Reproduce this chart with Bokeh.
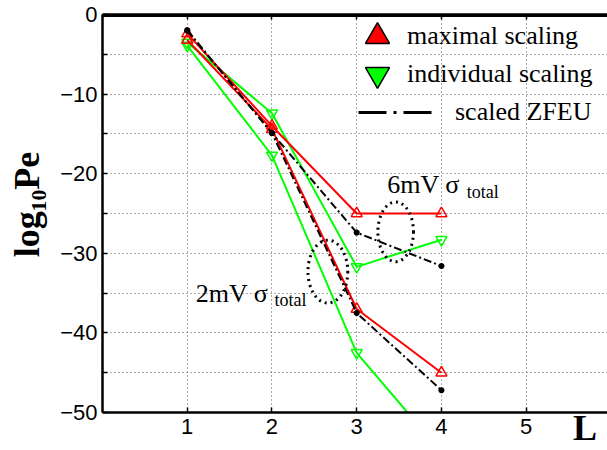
from bokeh.plotting import figure
from bokeh.models import (ColumnDataSource, FixedTicker, LinearAxis, Legend,
                          LegendItem, Label, Range1d)
from bokeh.embed import file_html
from bokeh.resources import INLINE

# ---------------- data ----------------
L = [1, 2, 3, 4]
max_6mv = [-2.4, -14.0, -25.0, -25.0]
max_2mv = [-3.2, -14.4, -37.0, -45.0]
ind_6mv = [-3.5, -12.4, -31.7, -28.3]
ind_2mv = [-3.9, -17.7, -42.5, -55.0]
zfeu_6mv = [-2.0, -14.9, -27.4, -31.6]
zfeu_2mv = [-2.0, -14.9, -37.5, -47.2]

x_lim = (0, 5.96)
y_lim = (-50, 0)
x_ticks = [1, 2, 3, 4, 5]
y_ticks = [-50, -45, -40, -35, -30, -25, -20, -15, -10, -5, 0]
y_tick_labels = {0: "0", -5: "", -10: "\u221210", -15: "", -20: "\u221220",
                 -25: "", -30: "\u221230", -35: "", -40: "\u221240", -45: "",
                 -50: "\u221250"}

legend_labels = ["maximal scaling", "individual scaling", "scaled ZFEU"]
y_title = "log\u2081\u2080Pe"
x_title = "L"

anno_text = ["2mV \u03c3", "6mV \u03c3"]
anno_x = [1.10, 3.36]
anno_y = [-35.0, -21.4]
sub_text = ["total", "total"]
sub_x = [2.03, 4.30]
sub_y = [-35.9, -22.3]

ell_x = [2.66, 3.46]
ell_y = [-32.3, -27.3]
ell_w = [0.47, 0.42]
ell_h = [7.9, 7.5]

RED = "#ff0000"
GREEN = "#00ff00"
SERIF = "Liberation Serif"
SANS = "Liberation Sans"
NBSP = "\u00a0"

p = figure(width=607, height=450, output_backend="svg", toolbar_location=None,
           x_range=Range1d(*x_lim), y_range=Range1d(*y_lim),
           min_border_left=102, min_border_right=0, min_border_top=14,
           min_border_bottom=37)
p.outline_line_color = None
p.background_fill_color = "white"
p.border_fill_color = "white"

# axes
for ax in (p.xaxis[0], p.yaxis[0]):
    ax.axis_line_width = 2.5
    ax.axis_line_color = "black"
    ax.major_tick_in = 5
    ax.major_tick_out = 0
    ax.major_tick_line_width = 1.5
    ax.minor_tick_line_color = None
    ax.major_label_text_font = SANS
    ax.major_label_text_font_size = "22px"
    ax.major_label_text_color = "black"

xa = p.xaxis[0]
xa.ticker = FixedTicker(ticks=x_ticks)
xa.major_label_standoff = 6
# label sits at the right end of the axis (padding keeps it inside the page)
xa.axis_label = x_title + NBSP * 5
xa.axis_label_text_font = SERIF
xa.axis_label_text_font_size = "36px"
xa.axis_label_text_font_style = "bold"
xa.axis_label_text_color = "black"
xa.axis_label_standoff = -29
try:
    xa.axis_label_align = "end"
except Exception:
    pass

ya = p.yaxis[0]
ya.ticker = FixedTicker(ticks=y_ticks)
ya.major_label_overrides = y_tick_labels
ya.major_label_standoff = 5
ya.axis_label = NBSP * 2 + y_title
ya.axis_label_text_font = SERIF
ya.axis_label_text_font_size = "36px"
ya.axis_label_text_font_style = "bold"
ya.axis_label_text_color = "black"
ya.axis_label_standoff = 10

top = LinearAxis(ticker=FixedTicker(ticks=x_ticks), major_label_text_font_size="8px",
                 major_label_text_alpha=0, major_label_standoff=0,
                 major_tick_in=5, major_tick_out=0,
                 major_tick_line_width=1.5, minor_tick_line_color=None,
                 axis_line_width=2.5, axis_line_color="black")
top.major_label_overrides = {t: "" for t in x_ticks}
p.add_layout(top, "above")

# top edge of the box
p.segment(x0=[x_lim[0]], y0=[y_lim[1]], x1=[x_lim[1]], y1=[y_lim[1]],
          line_color="black", line_width=5)

# grid
p.xgrid.ticker = FixedTicker(ticks=x_ticks)
p.ygrid.ticker = FixedTicker(ticks=y_ticks)
for g in (p.xgrid[0], p.ygrid[0]):
    g.grid_line_color = "#555555"
    g.grid_line_dash = "1 3"
    g.grid_line_width = 1

# series
src = ColumnDataSource(dict(L=L, max_6mv=max_6mv, max_2mv=max_2mv, ind_6mv=ind_6mv,
                            ind_2mv=ind_2mv, zfeu_6mv=zfeu_6mv, zfeu_2mv=zfeu_2mv))

for col in ("ind_6mv", "ind_2mv"):
    p.line("L", col, source=src, line_color=GREEN, line_width=2)
    p.scatter("L", col, source=src, marker="inverted_triangle", size=11,
              fill_color=None, line_color=GREEN, line_width=1.5)
for col in ("max_6mv", "max_2mv"):
    p.line("L", col, source=src, line_color=RED, line_width=2)
    p.scatter("L", col, source=src, marker="triangle", size=11,
              fill_color=None, line_color=RED, line_width=1.5)
for col in ("zfeu_6mv", "zfeu_2mv"):
    p.line("L", col, source=src, line_color="black", line_width=2,
           line_dash="8 3 2 3")
    p.scatter("L", col, source=src, marker="asterisk", size=6,
              line_color="black", line_width=2)

# dotted ellipses
esrc = ColumnDataSource(dict(x=ell_x, y=ell_y, w=ell_w, h=ell_h))
p.ellipse("x", "y", width="w", height="h", source=esrc, fill_color=None,
          line_color="black", line_width=3, line_dash="2 4")

# annotations
for t, x, y in zip(anno_text, anno_x, anno_y):
    p.add_layout(Label(x=x, y=y, text=t, text_font=SERIF, text_font_size="26px",
                       text_color="black", text_baseline="alphabetic"))
for t, x, y in zip(sub_text, sub_x, sub_y):
    p.add_layout(Label(x=x, y=y, text=t, text_font=SERIF, text_font_size="18px",
                       text_color="black", text_baseline="alphabetic"))

# legend proxies (not visible in plot area)
nan = float("nan")
prox = ColumnDataSource(dict(x=[nan], y=[nan]))
r_max = p.scatter("x", "y", source=prox, marker="triangle", fill_color=RED,
                  line_color="black", line_width=1.5)
r_ind = p.scatter("x", "y", source=prox, marker="inverted_triangle", fill_color=GREEN,
                  line_color="black", line_width=1.5)
r_zf = p.line("x", "y", source=prox, line_color="black", line_width=3,
              line_dash="28 7 3 7")


def make_legend(item, loc, gw, gh, standoff):
    lg = Legend(items=[item], location=loc, glyph_width=gw, glyph_height=gh,
                label_standoff=standoff, padding=0, margin=0, spacing=0,
                border_line_alpha=0, background_fill_alpha=0,
                label_text_font=SERIF, label_text_font_size="26px",
                label_text_color="black")
    p.add_layout(lg)


make_legend(LegendItem(label=legend_labels[0], renderers=[r_max]), (245, 346), 60, 60, -5)
make_legend(LegendItem(label=legend_labels[1], renderers=[r_ind]), (245, 308), 60, 60, -5)
make_legend(LegendItem(label=legend_labels[2], renderers=[r_zf]), (256, 285), 79, 30, 18)

open("out.html", "w").write(file_html(p, INLINE))
